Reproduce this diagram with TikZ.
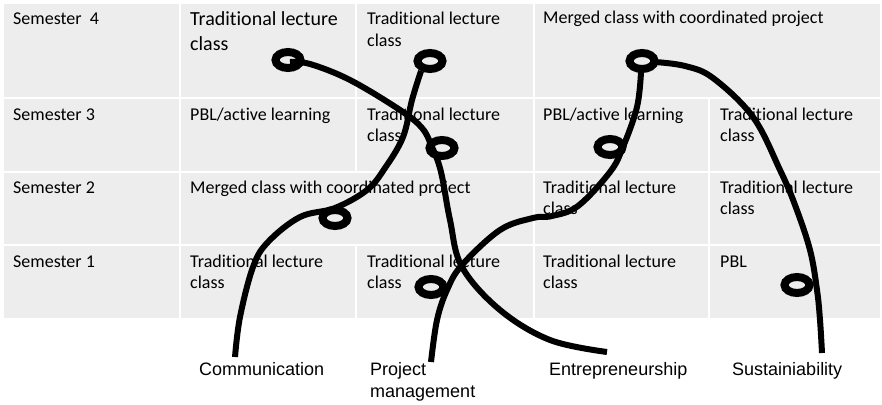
\documentclass[tikz,border=0pt]{standalone}
\usepackage{fontspec}
\setmainfont{Carlito}[Ligatures=NoCommon]
\newfontfamily\arialf{Liberation Sans}
\usetikzlibrary{shapes.geometric}
\definecolor{cellgray}{HTML}{EDEDED}
\begin{document}
\begin{tikzpicture}[x=1pt,y=-1pt,
  cellbox/.style={fill=cellgray},
  ctext/.style={anchor=base west, inner sep=0pt, font=\fontsize{18}{21}\selectfont, text=black},
  bigtext/.style={anchor=base west, inner sep=0pt, font=\fontsize{20}{24}\selectfont, text=black},
  lbl/.style={anchor=base west, inner sep=0pt, font=\arialf\fontsize{18}{21}\selectfont, text=black},
  loopnode/.style={ellipse, draw=black, line width=8pt, inner sep=0pt, minimum width=25pt, minimum height=16pt},
  curve/.style={draw=black, line width=6pt}
]
\useasboundingbox (0,0) rectangle (882,404);
% ---- cells ----
% row 4
\fill[cellbox] (4,4) rectangle (179,97);
\fill[cellbox] (181,4) rectangle (355,97);
\fill[cellbox] (357,4) rectangle (533,97);
\fill[cellbox] (535,4) rectangle (880,97);
% row 3
\fill[cellbox] (4,99) rectangle (179,171);
\fill[cellbox] (181,99) rectangle (355,171);
\fill[cellbox] (357,99) rectangle (533,171);
\fill[cellbox] (535,99) rectangle (708,171);
\fill[cellbox] (710,99) rectangle (880,171);
% row 2
\fill[cellbox] (4,173) rectangle (179,244);
\fill[cellbox] (181,173) rectangle (533,244);
\fill[cellbox] (535,173) rectangle (708,244);
\fill[cellbox] (710,173) rectangle (880,244);
% row 1
\fill[cellbox] (4,246) rectangle (179,318);
\fill[cellbox] (181,246) rectangle (355,318);
\fill[cellbox] (357,246) rectangle (533,318);
\fill[cellbox] (535,246) rectangle (708,318);
\fill[cellbox] (710,246) rectangle (880,318);

% ---- texts ----
\node[ctext] (s4) at (13,25) {Semester\ \ 4};
\node[bigtext] (r4c2a) at (190,26) {Traditional lecture};
\node[bigtext] (r4c2b) at (190,51) {class};
\node[ctext] (r4c3a) at (367,25) {Traditional lecture};
\node[ctext] (r4c3b) at (367,46) {class};
\node[ctext] (r4c4) at (543,24) {Merged class with coordinated project};

\node[ctext] (s3) at (13,120) {Semester 3};
\node[ctext] (r3c2) at (190,120) {PBL/active learning};
\node[ctext] (r3c3a) at (367,120) {Traditional lecture};
\node[ctext] (r3c3b) at (367,141) {class};
\node[ctext] (r3c4) at (543,120) {PBL/active learning};
\node[ctext] (r3c5a) at (720,120) {Traditional lecture};
\node[ctext] (r3c5b) at (720,141) {class};

\node[ctext] (s2) at (13,193) {Semester 2};
\node[ctext] (r2c2) at (190,193) {Merged class with coordinated project};
\node[ctext] (r2c4a) at (543,193) {Traditional lecture};
\node[ctext] (r2c4b) at (543,214) {class};
\node[ctext] (r2c5a) at (720,193) {Traditional lecture};
\node[ctext] (r2c5b) at (720,214) {class};

\node[ctext] (s1) at (13,267) {Semester 1};
\node[ctext] (r1c2a) at (190,267) {Traditional lecture};
\node[ctext] (r1c2b) at (190,288) {class};
\node[ctext] (r1c3a) at (367,267) {Traditional lecture};
\node[ctext] (r1c3b) at (367,288) {class};
\node[ctext] (r1c4a) at (543,267) {Traditional lecture};
\node[ctext] (r1c4b) at (543,288) {class};
\node[ctext] (r1c5) at (720,267) {PBL};

% ---- bottom labels ----
\node[lbl] (comm) at (199,375) {Communication};
\node[lbl] (pm1) at (370,375) {Project};
\node[lbl] (pm2) at (370,397) {management};
\node[lbl] (entr) at (549,375) {Entrepreneurship};
\node[lbl] (sust) at (732,375) {Sustainiability};

% ---- curve ends ----
\coordinate (commEnd) at (235,357);
\coordinate (pmEnd) at (431,362);
\coordinate (entrEnd) at (607,352);
\coordinate (sustEnd) at (822,353);

% ---- curves ----
% Communication
\draw[curve] plot[smooth, tension=0.6] coordinates {(commEnd) (240,317) (253,267) (268,242) (300,217) (335,208) (367,190) (385,168) (403,137) (412,100) (421,71)};
% Project management
\draw[curve] plot[smooth, tension=0.6] coordinates {(pmEnd) (437,320) (447,290) (462,265) (500,230) (533,218) (552,216) (578,206) (610,172) (623,147) (637,107) (641,72)};
% Entrepreneurship
\draw[curve] plot[smooth, tension=0.6] coordinates {(290,62) (310,64) (350,80) (400,110) (422,128) (432,147) (441,172) (450,220) (462,267) (500,310) (550,340) (entrEnd)};
% Sustainability
\draw[curve] plot[smooth, tension=0.6] coordinates {(655,62) (685,66) (713,78) (753,117) (780,170) (795,205) (810,250) (817,290) (820,320) (sustEnd)};

% ---- loops ----
\node[loopnode] (lA) at (288,60) {};
\node[loopnode] (lB) at (430,61) {};
\node[loopnode] (lC) at (442,148) {};
\node[loopnode] (lD) at (642,61) {};
\node[loopnode] (lE) at (610,147) {};
\node[loopnode] (lF) at (335,218) {};
\node[loopnode] (lG) at (431,287) {};
\node[loopnode] (lH) at (797,285) {};
\end{tikzpicture}
\end{document}
